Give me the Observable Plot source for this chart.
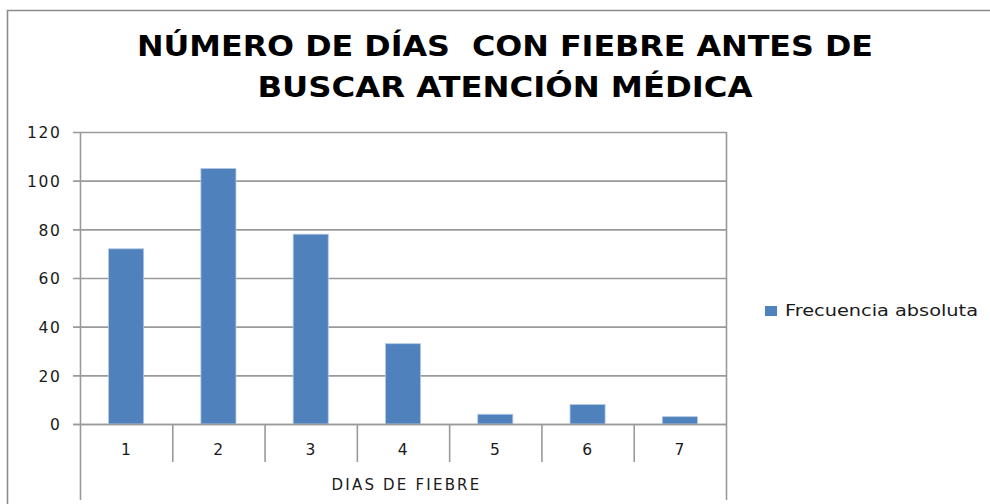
<!DOCTYPE html>
<html>
<head>
<meta charset="utf-8">
<script src="https://cdn.jsdelivr.net/npm/d3@7"></script>
<script src="https://cdn.jsdelivr.net/npm/@observablehq/plot@0.6"></script>
<style>
  html, body { margin: 0; padding: 0; background: #fff; }
  #wrap { position: relative; width: 990px; height: 504px; overflow: hidden; background: #fff; }
  #wrap > svg { position: absolute; left: 0; top: 0; }
  #overlay { pointer-events: none; }
</style>
</head>
<body>
<div id="wrap"></div>
<script>
// ---- data ----
const days = [1, 2, 3, 4, 5, 6, 7];
const freq = [72, 105, 78, 33, 4, 8, 3];
const yTicks = [0, 20, 40, 60, 80, 100, 120];
const titleLines = ["NÚMERO DE DÍAS  CON FIEBRE ANTES DE", "BUSCAR ATENCIÓN MÉDICA"];
const xTitle = "DIAS DE FIEBRE";
const seriesName = "Frecuencia absoluta";

const data = days.map((d, i) => ({day: d, freq: freq[i]}));
const innerBounds = days.slice(0, -1).map(d => d + 0.5);
const outerBounds = [days[0] - 0.5, days[days.length - 1] + 0.5];

const barColor = "#4F81BD";
const gridColor = "#9a9a9a";
const textColor = "#1a1a1a";

const chart = Plot.plot({
  width: 990,
  height: 504,
  marginLeft: 80,
  marginRight: 264,
  marginTop: 132,
  marginBottom: 80,
  x: {domain: [0.5, 7.5], axis: null},
  y: {domain: [0, 120], axis: null},
  style: {fontFamily: "'DejaVu Sans', Verdana, sans-serif", color: textColor, background: "transparent", overflow: "visible"},
  marks: [
    Plot.ruleY(yTicks, {stroke: gridColor, strokeWidth: 1.6, insetLeft: -7}),
    Plot.rect(data, {
      x1: d => d.day - 0.19,
      x2: d => d.day + 0.19,
      y1: 0,
      y2: "freq",
      fill: barColor,
      stroke: "#b3c8e2",
      strokeWidth: 0.8
    }),
    Plot.ruleY([0], {stroke: gridColor, strokeWidth: 1.6, insetLeft: -7}),
    Plot.ruleX(innerBounds, {y1: 0, y2: 0, insetBottom: -38, stroke: gridColor, strokeWidth: 1.6}),
    Plot.ruleX(outerBounds, {y1: 120, y2: 0, insetBottom: -76, stroke: gridColor, strokeWidth: 1.6}),
    Plot.text(yTicks, {
      x: 0.5, y: d => d, text: d => String(d),
      textAnchor: "end", dx: -19, dy: 1, fontSize: 15.5, fill: textColor,
      className: "ylab"
    }),
    Plot.text(days, {
      x: d => d, y: 0, text: d => String(d),
      dy: 26, fontSize: 15.5, fill: textColor
    }),
    Plot.text([xTitle], {
      frameAnchor: "bottom", dy: 65, dx: 3, text: d => d,
      fontSize: 15, fill: textColor, className: "xtitle"
    })
  ]
});

const wrap = document.getElementById("wrap");
wrap.appendChild(chart);

// letter spacing for tick texts
chart.querySelectorAll("text").forEach(t => { t.style.letterSpacing = "1.6px"; });
chart.querySelectorAll(".xtitle text").forEach(t => { t.style.letterSpacing = "2.2px"; });

// overlay: chart border, title and legend (text only)
const NS = "http://www.w3.org/2000/svg";
const ov = document.createElementNS(NS, "svg");
ov.setAttribute("id", "overlay");
ov.setAttribute("width", 990);
ov.setAttribute("height", 504);
ov.setAttribute("viewBox", "0 0 990 504");
wrap.appendChild(ov);

function el(name, attrs, text) {
  const e = document.createElementNS(NS, name);
  for (const k in attrs) e.setAttribute(k, attrs[k]);
  if (text != null) e.textContent = text;
  ov.appendChild(e);
  return e;
}

// outer chart area border
el("path", {d: "M7.5,504 V10.5 H990", fill: "none", stroke: "#8c8c8c", "stroke-width": 1.6});

// title
const titleSpecs = [
  {y: 55.5, len: 736},
  {y: 97, len: 495}
];
titleLines.forEach((line, i) => {
  el("text", {
    x: 505, y: titleSpecs[i].y, "text-anchor": "middle",
    "font-family": "'Liberation Sans Narrow', 'DejaVu Sans Condensed', 'DejaVu Sans', sans-serif",
    "font-weight": "bold", "font-size": 28, fill: "#000",
    textLength: titleSpecs[i].len, lengthAdjust: "spacingAndGlyphs",
    style: "white-space:pre"
  }, line);
});

// legend
el("rect", {x: 765, y: 306, width: 12, height: 10, fill: barColor});
el("text", {
  x: 785, y: 315.5, "font-family": "'DejaVu Sans', Verdana, sans-serif",
  "font-size": 16, fill: textColor, textLength: 193, lengthAdjust: "spacingAndGlyphs"
}, seriesName);
</script>
</body>
</html>
